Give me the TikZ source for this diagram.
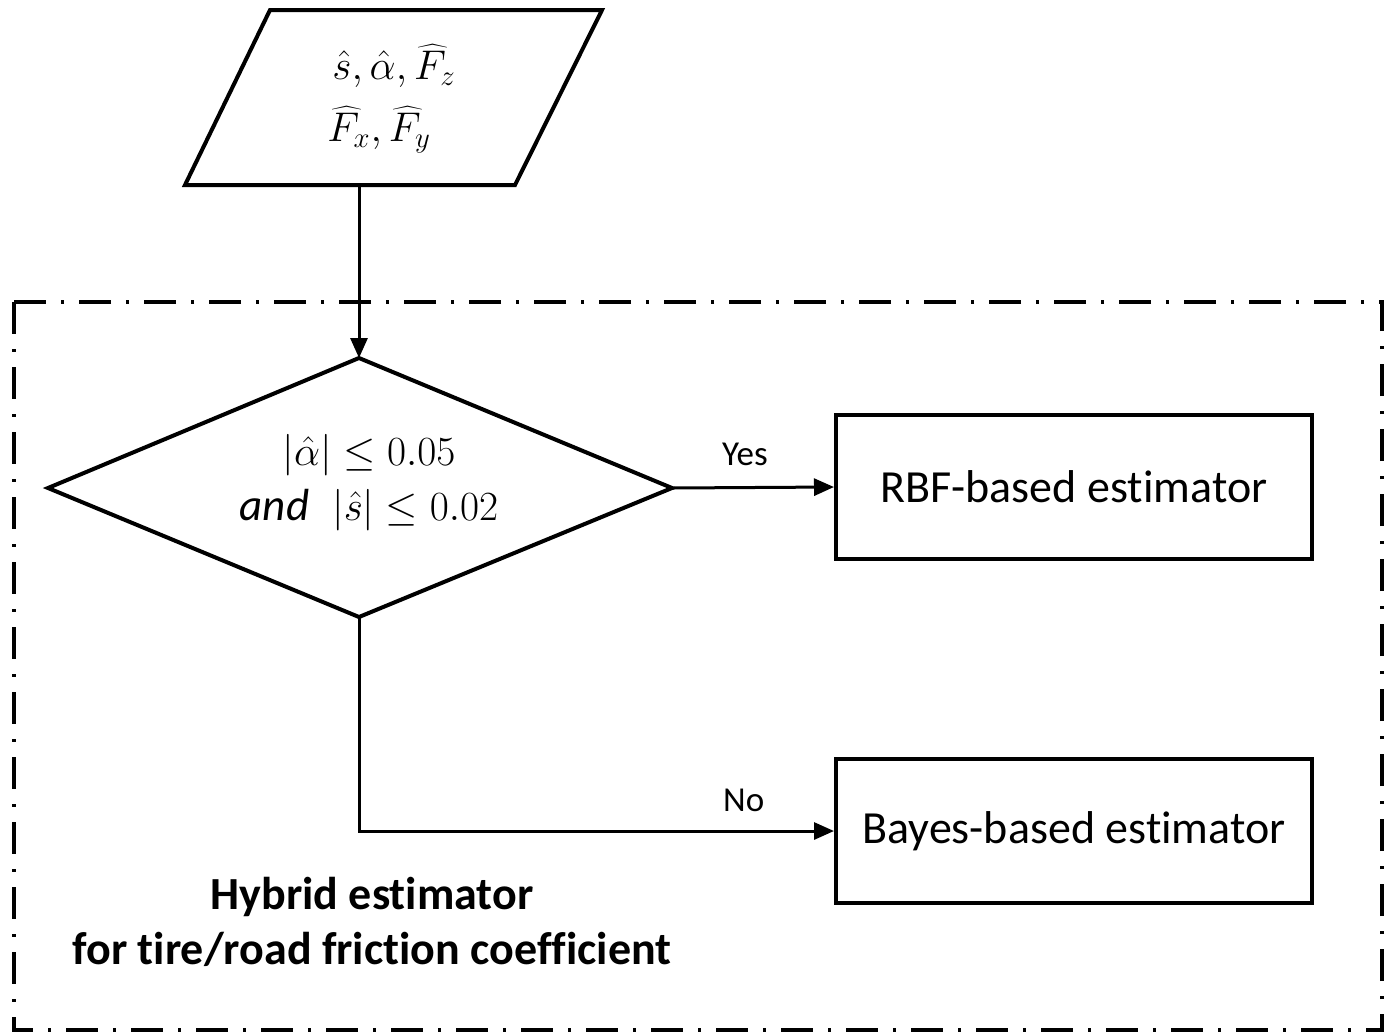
\documentclass[tikz,border=0pt]{standalone}
\usepackage{fontspec}
\setmainfont{Carlito}[Ligatures=NoCommon]
\usetikzlibrary{arrows.meta}
\begin{document}
\begin{tikzpicture}[x=0.5pt,y=-0.5pt,
  shapeline/.style={draw=black,line width=2pt,line join=miter},
  box/.style={shapeline,minimum width=238pt,minimum height=72pt,inner sep=0pt,font=\fontsize{23}{27}\selectfont},
  conn/.style={line width=1.5pt,-{Triangle[length=10pt,width=8.5pt]}},
  lbl/.style={font=\fontsize{17.5}{20}\selectfont},
  frame/.style={line width=1.6pt,dash pattern=on 16pt off 7.5pt on 1.5pt off 7.5pt},
  mathtxt/.style={font=\fontsize{22.5}{27.5}\selectfont,align=center,inner sep=0pt},
  title/.style={font=\fontsize{23}{27.5}\selectfont\bfseries,align=center,inner sep=0pt}]
\useasboundingbox (0,0) rectangle (1390,1034);
% frame
\draw[frame] (14,302) rectangle (1382,1030);
% input parallelogram
\coordinate (pTL) at (270,10);
\coordinate (pTR) at (602,10);
\coordinate (pBR) at (515,185);
\coordinate (pBL) at (185,185);
\coordinate (inBot) at (359,185);
\draw[shapeline] (pTL) -- (pTR) -- (pBR) -- (pBL) -- cycle;
\node[font=\fontsize{20.5}{31}\selectfont,align=left,inner sep=0pt,anchor=west] (input) at (327,99)
  {\hspace{2.5pt}$\hat{s},\hat{\alpha},\widehat{F}_z$\\[0pt] $\widehat{F}_x,\widehat{F}_y$};
% decision diamond
\coordinate (dT) at (359,358);
\coordinate (dR) at (672,488);
\coordinate (dB) at (359,617);
\coordinate (dL) at (48,488);
\draw[shapeline] (dT) -- (dR) -- (dB) -- (dL) -- cycle;
\node[mathtxt] (cond) at (369,483)
  {$|\hat{\alpha}|\le 0.05$\\ $\mathit{and}\;\;|\hat{s}|\le 0.02$};
% estimators
\node[box] (rbf) at (1074,487) {RBF-based estimator};
\node[box] (bayes) at (1074,831) {Bayes-based estimator};
% title
\node[title] (hybrid) at (372,922) {Hybrid estimator\\for tire/road friction coefficient};
% connectors
\draw[conn] (inBot) -- (dT);
\draw[conn] (dR) -- (rbf.west) node[lbl,pos=0.45,yshift=16.5pt] {Yes};
\draw[conn] (dB) |- (bayes.west) node[lbl,pos=0.905,yshift=15.5pt] {No};
\end{tikzpicture}
\end{document}
